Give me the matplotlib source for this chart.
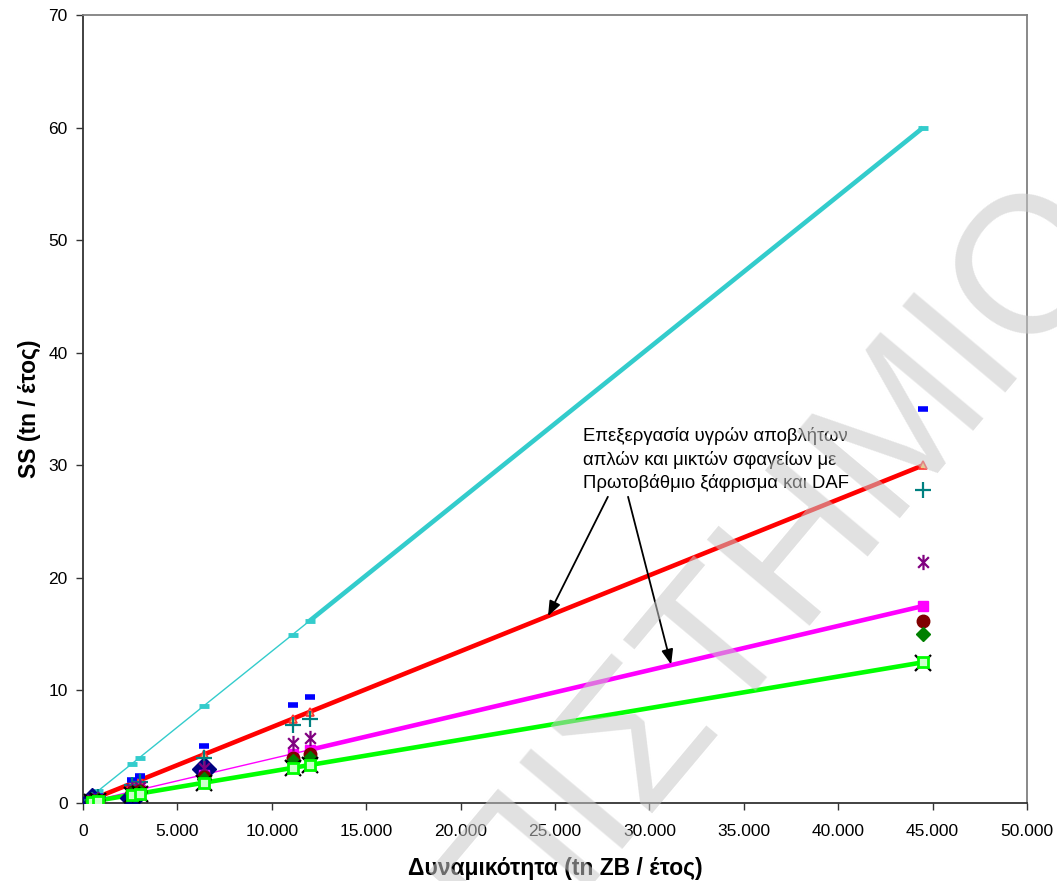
import matplotlib
matplotlib.use("Agg")
import matplotlib.pyplot as plt
from matplotlib.path import Path
from matplotlib.ticker import FuncFormatter, MultipleLocator

plt.rcParams['font.family'] = ['Liberation Sans', 'DejaVu Sans']

# Capacity of each plant (tn ZB / year)
capacity = [480, 800, 2600, 3000, 6400, 11100, 12000, 44500]

# SS production (tn / year) per treatment scenario
ss_cyan = [0.65, 1.08, 3.50, 4.04, 8.63, 14.96, 16.18, 60.0]
ss_blue = [0.38, 0.63, 2.04, 2.36, 5.03, 8.72, 9.43, 35.0]
ss_red = [0.32, 0.54, 1.75, 2.02, 4.31, 7.48, 8.09, 30.0]
ss_teal = [0.30, 0.50, 1.63, 1.88, 4.00, 6.94, 7.50, 27.8]
ss_purple = [0.23, 0.38, 1.25, 1.44, 3.08, 5.34, 5.77, 21.4]
ss_magenta = [0.19, 0.31, 1.02, 1.18, 2.52, 4.37, 4.72, 17.5]
ss_darkred = [0.17, 0.29, 0.95, 1.09, 2.33, 4.04, 4.37, 16.2]
ss_green = [0.16, 0.27, 0.88, 1.01, 2.16, 3.74, 4.04, 15.0]
ss_black = [0.13, 0.22, 0.73, 0.84, 1.79, 3.10, 3.35, 12.4]
ss_lime = [0.13, 0.22, 0.73, 0.84, 1.80, 3.12, 3.37, 12.5]

navy_capacity = [480, 2600, 6400]
ss_navy = [0.25, 0.45, 3.0]

note_text = ("Επεξεργασία υγρών αποβλήτων\n"
             "απλών και μικτών σφαγείων με\n"
             "Πρωτοβάθμιο ξάφρισμα και DAF")
x_label = "Δυναμικότητα (tn ZB / έτος)"
y_label = "SS (tn / έτος)"
watermark = "ΠΙΣΤΗΜΙΟ"

# asterisk marker: an X crossed by a vertical bar
star = Path([(-0.7, -0.7), (0.7, 0.7), (-0.7, 0.7), (0.7, -0.7),
             (0, -1), (0, 1)],
            [Path.MOVETO, Path.LINETO, Path.MOVETO, Path.LINETO,
             Path.MOVETO, Path.LINETO])

fig = plt.figure(figsize=(10.57, 8.81), dpi=100)
ax = fig.add_axes([83 / 1057, 1 - 803 / 881, (1027 - 83) / 1057, (803 - 15) / 881])

THICK = 3.3
THIN = 1.0

# cyan: thin through the small plants, thick to the largest
ax.plot(capacity[:7], ss_cyan[:7], color='#33CCCC', lw=THIN, zorder=3)
ax.plot(capacity[6:], ss_cyan[6:], color='#33CCCC', lw=THICK, zorder=3,
        solid_capstyle='butt')
ax.plot(capacity, ss_cyan, ls='none', marker='_', ms=7, mew=3.5,
        color='#33CCCC', zorder=4)

# red
ax.plot(capacity, ss_red, color='#FF0000', lw=THICK, zorder=3,
        solid_capstyle='butt')
ax.plot(capacity, ss_red, ls='none', marker='^', ms=6, mfc='#FFCC66',
        mec='#FF3333', mew=1.2, zorder=6)

# magenta
ax.plot(capacity[:7], ss_magenta[:7], color='#FF00FF', lw=THIN, zorder=3)
ax.plot(capacity[6:], ss_magenta[6:], color='#FF00FF', lw=THICK, zorder=3,
        solid_capstyle='butt')
ax.plot(capacity, ss_magenta, ls='none', marker='s', ms=6.5,
        color='#FF00FF', zorder=5)

# lime
ax.plot(capacity, ss_lime, color='#00FF00', lw=THICK, zorder=3,
        solid_capstyle='butt')

# navy diamonds
ax.plot(navy_capacity, ss_navy, ls='none', marker='D', ms=12,
        color='#000080', zorder=4)

# blue dashes
ax.plot(capacity, ss_blue, ls='none', marker='_', ms=7, mew=4,
        color='#0000FF', zorder=6)
# teal plus
ax.plot(capacity, ss_teal, ls='none', marker='+', ms=11, mew=1.6,
        color='#008080', zorder=6)
# purple asterisk
ax.plot(capacity, ss_purple, ls='none', marker=star, ms=11, mew=1.6,
        color='#800080', mfc='none', zorder=6)
# dark red circles
ax.plot(capacity, ss_darkred, ls='none', marker='o', ms=9,
        color='#800000', zorder=6)
# green diamonds
ax.plot(capacity, ss_green, ls='none', marker='D', ms=7,
        color='#008000', zorder=6)
# black x
ax.plot(capacity, ss_black, ls='none', marker='x', ms=11, mew=1.6,
        color='black', zorder=6)
# lime squares
ax.plot(capacity, ss_lime, ls='none', marker='s', ms=7, mfc='#CCFFCC',
        mec='#00FF00', mew=2, zorder=7)

# axes
ax.set_xlim(0, 50000)
ax.set_ylim(0, 70)
ax.xaxis.set_major_locator(MultipleLocator(5000))
ax.yaxis.set_major_locator(MultipleLocator(10))


def thousands(v, pos):
    return f"{int(v):,}".replace(",", ".")


ax.xaxis.set_major_formatter(FuncFormatter(thousands))
ax.tick_params(axis='both', direction='out', length=5, width=1,
               labelsize=12.5, color='#333333', pad=6)
ax.tick_params(axis='x', pad=10)
for side in ('left', 'bottom'):
    ax.spines[side].set_color('#333333')
    ax.spines[side].set_linewidth(1.3)
for side in ('top', 'right'):
    ax.spines[side].set_color('#808080')
    ax.spines[side].set_linewidth(1.3)

ax.set_xlabel(x_label, fontsize=16.5, fontweight='bold', labelpad=13)
ax.set_ylabel(y_label, fontsize=16.5, fontweight='bold', labelpad=5)

# annotation
ax.text(26500, 33.4, note_text, fontsize=13.3, va='top', ha='left',
        linespacing=1.4, zorder=8)
arrow_kw = dict(arrowstyle='-|>,head_length=0.9,head_width=0.35',
                color='black', lw=1.3, shrinkA=0, shrinkB=0)
ax.annotate('', xy=(24630, 16.6), xytext=(27800, 27.2),
            arrowprops=arrow_kw, zorder=8)
ax.annotate('', xy=(31150, 12.3), xytext=(28870, 27.2),
            arrowprops=arrow_kw, zorder=8)

# watermark
fig.text(515 / 1057, 1 - 958 / 881, watermark, fontsize=140,
         color='#C8C8C8', alpha=0.55, rotation=50, rotation_mode='anchor',
         ha='left', va='baseline', zorder=20)

fig.savefig('out.png', dpi=100)
